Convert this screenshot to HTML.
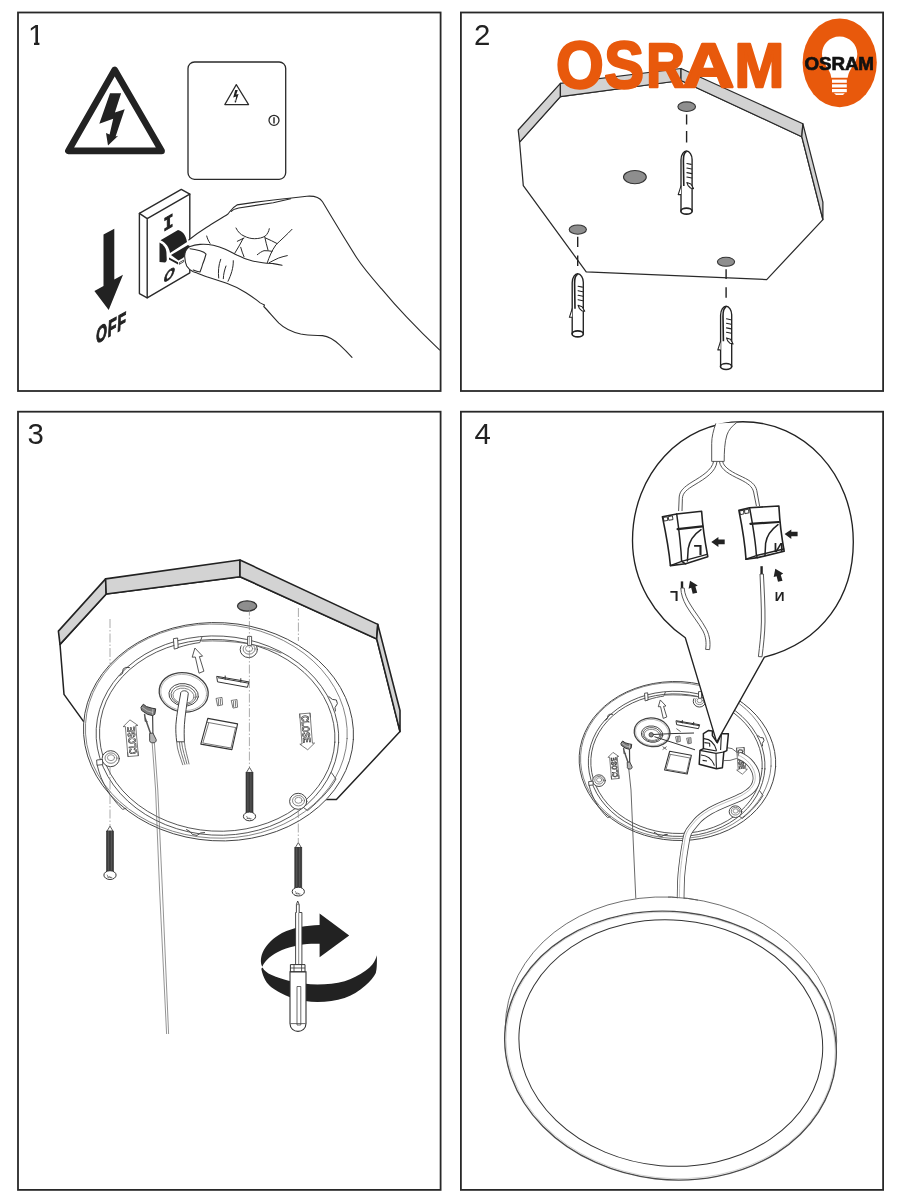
<!DOCTYPE html>
<html><head><meta charset="utf-8"><title>OSRAM mounting instructions</title>
<style>
html,body{margin:0;padding:0;background:#fff;}
body{width:900px;height:1200px;overflow:hidden;font-family:"Liberation Sans",sans-serif;}
svg{display:block;position:absolute;left:0;top:0;will-change:transform;}
.f{fill:none;stroke:#282828;stroke-width:1.8;}
.l{fill:none;stroke:#2a2a2a;stroke-width:1.1;stroke-linejoin:round;stroke-linecap:round;}
.t{fill:none;stroke:#444;stroke-width:0.7;stroke-linejoin:round;stroke-linecap:round;}
.w{fill:#fff;stroke:#2a2a2a;stroke-width:1.25;stroke-linejoin:round;}
.g{fill:#d2d2d2;stroke:#2a2a2a;stroke-width:1.25;stroke-linejoin:round;}
.h{fill:#8e8e8e;stroke:#333;stroke-width:1.1;}
.k{fill:#222;stroke:none;}
.num{font-family:"Liberation Sans",sans-serif;font-size:29.4px;fill:#222;}
</style></head><body>
<svg width="900" height="1200" viewBox="0 0 900 1200">
<defs>
<g id="anchor">
  <path d="M-5.5,60 L-5.5,9 C-5.5,3.5 -2.5,0 0,0 C3,0 5.6,4 5.6,8.5 L5.6,60 Z" fill="#fff" stroke="#222" stroke-width="1.35" stroke-linejoin="round"/>
  <ellipse cx="0" cy="60.2" rx="5.6" ry="3" fill="#fff" stroke="#222" stroke-width="1.7"/>
  <path d="M0,0.6 C-2.5,1.5 -3.2,5 -3.1,10 L-2.7,35" fill="none" stroke="#222" stroke-width="1.6"/>
  <path d="M-5.4,34.6 L-8.3,43.6 L-5.5,43.6" fill="#fff" stroke="#222" stroke-width="1.1" stroke-linejoin="round"/>
  <path d="M0.4,12.5 L4.7,13.4 M0.4,17 L5,18 M0.4,21.6 L5.2,22.6 M0.4,26 L5.2,27" fill="none" stroke="#222" stroke-width="1.1" stroke-linecap="round"/>
  <path d="M0.4,31.6 L4.4,33 L7,37.6 L4,37 L1.6,34.6 Z" fill="#fff" stroke="#222" stroke-width="1.1" stroke-linejoin="round"/>
</g>

<g id="post">
  <ellipse cx="0" cy="0" rx="8.6" ry="8" fill="#fff" stroke="#444" stroke-width="1" vector-effect="non-scaling-stroke"/>
  <ellipse cx="0.3" cy="-0.6" rx="6" ry="5.2" fill="none" stroke="#666" stroke-width="0.8" vector-effect="non-scaling-stroke"/>
  <ellipse cx="0.3" cy="-1" rx="3.6" ry="3" fill="none" stroke="#777" stroke-width="0.8" vector-effect="non-scaling-stroke"/>
</g>
<g id="base" stroke-linecap="round" stroke-linejoin="round">
  <g transform="rotate(3.3 217.9 731.7)">
    <ellipse cx="218.5" cy="731.7" rx="135.1" ry="109.1" fill="#fff" stroke="#444" stroke-width="1" vector-effect="non-scaling-stroke"/>
    <ellipse cx="216.3" cy="731.2" rx="131" ry="107" fill="none" stroke="#666" stroke-width="0.8" vector-effect="non-scaling-stroke"/>
  </g>
  <g transform="rotate(3.3 217.5 736)">
    <ellipse cx="217.4" cy="735.6" rx="121.4" ry="99.6" fill="none" stroke="#444" stroke-width="0.9" vector-effect="non-scaling-stroke"/>
    <ellipse cx="217.2" cy="735.4" rx="117.8" ry="95.8" fill="none" stroke="#444" stroke-width="0.9" vector-effect="non-scaling-stroke"/>
  </g>
  <!-- posts -->
  <clipPath id="cp1"><rect x="236" y="645.6" width="26" height="16"/></clipPath>
  <g clip-path="url(#cp1)"><use href="#post" x="248.8" y="649.6"/></g>
  <use href="#post" x="110.7" y="758.7"/>
  <use href="#post" x="298.2" y="801.3"/>
  <!-- tabs -->
  <path d="M248,636.4 H251.6 V645.4 H248 Z" fill="#fff" stroke="#444" stroke-width="0.9" vector-effect="non-scaling-stroke"/>
  <path d="M97,760 L102.4,759.4 L102.8,764.6 L97.4,765.2 Z" fill="#fff" stroke="#444" stroke-width="0.9" vector-effect="non-scaling-stroke"/>
  <path d="M173.8,638.6 L177.6,638 L178.2,648 L174.6,649 Z" fill="#fff" stroke="#444" stroke-width="0.9" vector-effect="non-scaling-stroke"/>
  <!-- lip recess and step -->
  <path d="M178,647.6 C186,645 194,643.2 199.8,642.6 L201.8,637.4" fill="none" stroke="#444" stroke-width="0.9" vector-effect="non-scaling-stroke"/>
  <path d="M201.8,641.2 C216,640.4 232,641.2 247.6,643.6 M252,644.4 C262,646.4 272,649.4 281,653" fill="none" stroke="#555" stroke-width="0.8" vector-effect="non-scaling-stroke"/>
  <!-- notches -->
  <path d="M119.6,675.6 L122.6,673.4 L123,669.2 L125.6,667.4 L129.4,667.6" fill="none" stroke="#444" stroke-width="1" vector-effect="non-scaling-stroke"/>
  <path d="M328.8,696.6 L332.4,699.4 L336.4,700 L337.4,703.6 L335,707.6 L335.4,711" fill="none" stroke="#444" stroke-width="1" vector-effect="non-scaling-stroke"/>
  <path d="M186.6,829.6 L190,831.6 L192.6,834.6 L197,835.4 L200.6,833 L204.6,832.6" fill="none" stroke="#444" stroke-width="1" vector-effect="non-scaling-stroke"/>
  <!-- lower lip segments -->
  <path d="M97.2,765.2 C101,782 110,797 122.6,809.4 L126,808.2" fill="none" stroke="#444" stroke-width="0.9" vector-effect="non-scaling-stroke"/>
  <path d="M331.4,772.6 L336,779 C330,790 320,800 307.6,810.6 L303.6,807.6" fill="none" stroke="#444" stroke-width="0.9" vector-effect="non-scaling-stroke"/>
  <!-- grommet -->
  <g transform="rotate(8 183.7 692.3)">
    <ellipse cx="183.7" cy="692.3" rx="24.6" ry="19.6" fill="#fff" stroke="#444" stroke-width="1.3" vector-effect="non-scaling-stroke"/>
    <ellipse cx="183.7" cy="692.5" rx="23" ry="18" fill="none" stroke="#888" stroke-width="0.6" vector-effect="non-scaling-stroke"/>
    <ellipse cx="184" cy="694.8" rx="14.8" ry="11.2" fill="none" stroke="#444" stroke-width="1" vector-effect="non-scaling-stroke"/>
    <ellipse cx="184" cy="695.2" rx="12.6" ry="9.4" fill="none" stroke="#555" stroke-width="0.9" vector-effect="non-scaling-stroke"/>
    <ellipse cx="184" cy="695.8" rx="10.6" ry="7.6" fill="none" stroke="#666" stroke-width="0.8" vector-effect="non-scaling-stroke"/>
  </g>
  <!-- arrow -->
  <path d="M194.8,648.4 L192.2,657.2 L195.3,657 L199,673.2 L203.9,671.2 L199.4,656.6 L202.2,656.2 Z" fill="#fff" stroke="#444" stroke-width="0.9" vector-effect="non-scaling-stroke"/>
  <!-- terminal strip -->
  <path d="M217.1,676.4 L249,681.9 L247.4,687.3 L217.9,681.9 Z" fill="#fff" stroke="#333" stroke-width="1" vector-effect="non-scaling-stroke"/>
  <path d="M218.4,677.8 L247.6,683 M225.2,676 V679.4 M240.8,678.6 V682" fill="none" stroke="#333" stroke-width="1" vector-effect="non-scaling-stroke"/>
  <!-- clips -->
  <path d="M216.4,698.4 L222,697.4 L222.6,704.8 L218,705.8 Z M218.4,699.4 V704.6 M220.4,699 V704.4" fill="#fff" stroke="#555" stroke-width="0.8" vector-effect="non-scaling-stroke"/>
  <path d="M231.6,700.4 L237,699.6 L237.6,707.2 L233.4,708 Z M233.6,701.4 V706.6 M235.6,701 V706.4" fill="#fff" stroke="#555" stroke-width="0.8" vector-effect="non-scaling-stroke"/>
  <!-- box -->
  <path d="M207.8,718.4 L237.6,723.9 L231.9,749.6 L200.8,744.1 Z" fill="#fff" stroke="#333" stroke-width="1.1" vector-effect="non-scaling-stroke"/>
  <path d="M206.8,722.2 L236.8,727.8 M208.6,723.4 L202.8,743 L231,748 L235.4,728.4" fill="none" stroke="#555" stroke-width="0.8" vector-effect="non-scaling-stroke"/>
  <!-- hook -->
  <path d="M141.2,706.9 L143.3,704.2 L146.5,706.6 L152,708.2 L155.7,708.8 L154.8,714.3 L152.5,715.6 L147.4,714.3 L141.9,710.6 Z" fill="#7a7a7a" stroke="#333" stroke-width="1" vector-effect="non-scaling-stroke"/>
  <path d="M142.6,707.6 L147.6,711 L152.6,712.4 M152.8,709.4 L152.6,714.6" fill="none" stroke="#ddd" stroke-width="0.6" vector-effect="non-scaling-stroke"/>
  <path d="M144.6,714.4 L145.4,721 L147,721.6 M145,717.4 L150.4,733" fill="none" stroke="#555" stroke-width="1.5" vector-effect="non-scaling-stroke"/>
  <path d="M152.6,715.4 L152.9,733.4" fill="none" stroke="#444" stroke-width="1.2" vector-effect="non-scaling-stroke"/>
  <path d="M150,733.4 L152.9,733 L156.2,739.6 C156.6,742 154.6,743 152.9,742.8 C150.6,743 149,741.4 149.6,739.4 Z" fill="#b5b5b5" stroke="#444" stroke-width="1" vector-effect="non-scaling-stroke"/>
  <!-- CLOSE labels -->
  <g transform="translate(136.8,754.2) rotate(-95)">
    <path d="M2.4,1.4 H-1.6 V-9 H2.4 M-1.6,1.4 H28.6 V3.6 L34.8,-3.8 L28.6,-11.2 V-9 H-1.6" fill="none" stroke="#444" stroke-width="0.7" vector-effect="non-scaling-stroke"/>
    <text x="0.4" y="0" font-family="Liberation Sans, sans-serif" font-weight="bold" font-size="10.4" textLength="27.4" lengthAdjust="spacingAndGlyphs" fill="#ddd" stroke="#222" stroke-width="0.6" vector-effect="non-scaling-stroke">CLOSE</text>
  </g>
  <g transform="translate(301.2,715.4) rotate(85.5)">
    <path d="M2.4,1.4 H-1.6 V-9 H2.4 M-1.6,1.4 H28.6 V3.6 L34.8,-3.8 L28.6,-11.2 V-9 H-1.6" fill="none" stroke="#444" stroke-width="0.7" vector-effect="non-scaling-stroke"/>
    <text x="0.4" y="0" font-family="Liberation Sans, sans-serif" font-weight="bold" font-size="10.4" textLength="27.4" lengthAdjust="spacingAndGlyphs" fill="#ddd" stroke="#222" stroke-width="0.6" vector-effect="non-scaling-stroke">CLOSE</text>
  </g>
</g>
<g id="screw">
  <path d="M0,0 L-3,5 H3 Z" fill="#fff" stroke="#333" stroke-width="0.8"/>
  <rect x="-3.5" y="5" width="7" height="41" fill="#3c3c3c" stroke="#2a2a2a" stroke-width="0.6"/>
  <path d="M-1.6,5 V46 M1.4,5 V46" stroke="#666" stroke-width="0.7" fill="none"/>
  <ellipse cx="0" cy="49" rx="6.1" ry="4.4" fill="#fff" stroke="#333" stroke-width="1"/>
  <path d="M-3,48.6 L-1.4,51.6 M-2.8,51 L2.2,51.4 M-0.6,50 L1,52" stroke="#555" stroke-width="0.7" fill="none"/>
</g>
</defs>
<rect width="900" height="1200" fill="#fff"/>

<!-- ===== PANEL 2 ===== -->
<g id="p2">
  <!-- plate underside -->
  <path class="w" d="M560.4,96.7 L681,80.5 L801.8,136.7 L822.9,219.6 L766.7,279.6 L586.2,271.8 L523.3,185.6 L519.6,142.2 Z"/>
  <!-- grey sides -->
  <path class="g" d="M518.2,130 L560.4,83.3 L560.4,96.7 L519.6,142.2 Z"/>
  <path class="g" d="M560.4,83.3 L681,68.5 L681,80.5 L560.4,96.7 Z"/>
  <path class="g" d="M681,68.5 L802.9,123.8 L801.8,136.7 L681,80.5 Z"/>
  <path class="g" d="M802.9,123.8 L822.9,202.2 L822.9,219.6 L801.8,136.7 Z"/>
  <!-- holes -->
  <ellipse class="h" cx="686.7" cy="106.7" rx="8.8" ry="4.8"/>
  <ellipse class="h" cx="634.9" cy="177.1" rx="11.4" ry="6.6"/>
  <ellipse class="h" cx="577.8" cy="229.6" rx="8.6" ry="4.6"/>
  <ellipse class="h" cx="726" cy="261.8" rx="8.6" ry="4.5"/>
  <!-- dashed lines -->
  <path d="M686.6,114.4 V124.4 M686.6,131 V142.5 M577.7,236.7 V247 M577.7,255.4 V266 M726.1,269.2 V279.1 M726.1,287.2 V297.7" fill="none" stroke="#222" stroke-width="1.4"/>
  <use href="#anchor" x="686.5" y="151"/>
  <use href="#anchor" x="577.7" y="273.7"/>
  <use href="#anchor" x="726.1" y="306.3"/>
</g>

<!-- ===== LOGO ===== -->
<g id="logo">
  <text font-family="Liberation Sans, sans-serif" font-weight="bold" fill="#e8590c" stroke="#e8590c" stroke-width="2.4" stroke-linejoin="round"><tspan x="555.9" y="87.5" font-size="66.1" textLength="47.7" lengthAdjust="spacingAndGlyphs">O</tspan><tspan x="604.3" y="87.5" font-size="66.1" textLength="39.8" lengthAdjust="spacingAndGlyphs">S</tspan><tspan x="646.2" y="86.9" font-size="63.8" textLength="38.6" lengthAdjust="spacingAndGlyphs">R</tspan><tspan x="682.7" y="86.9" font-size="63.8" textLength="51.5" lengthAdjust="spacingAndGlyphs">A</tspan><tspan x="734.5" y="86.9" font-size="63.8" textLength="49.8" lengthAdjust="spacingAndGlyphs">M</tspan></text>
  <ellipse cx="839.7" cy="62.8" rx="37.1" ry="44.4" fill="#e8590c"/>
  <path fill="#fff" d="M839.6,36.4 C829.6,36.4 822,44.5 822,54 C822,62 828,67 830.5,74 L831.3,77.8 H847.6 L848.5,74 C851,67 857.3,62 857.3,54 C857.3,44.5 849.6,36.4 839.6,36.4 Z"/>
  <rect x="832" y="79.6" width="14.8" height="3.2" fill="#fff"/>
  <rect x="832" y="84.3" width="14.8" height="3.2" fill="#fff"/>
  <rect x="832" y="89" width="14.8" height="3.2" fill="#fff"/>
  <path fill="#fff" d="M834,93.2 H844.8 L843,95 H836 Z"/>
  <text x="804.5" y="70" font-family="Liberation Sans, sans-serif" font-weight="bold" font-size="18.8" fill="#111" stroke="#111" stroke-width="0.7" letter-spacing="-0.1">OSRAM</text>
</g>

<!-- ===== PANEL 1 ===== -->
<g id="p1">
  <!-- warning triangle -->
  <path d="M114.7,69.9 L68.4,150.9 L161.6,150.9 Z" fill="#fff" stroke="#222" stroke-width="6.6" stroke-linejoin="round"/>
  <path class="k" d="M110,93.3 L121.1,93.3 L114.9,112.6 L124.7,109.3 L115.6,136.6 L118.2,135.8 L108,145.4 L106,133 L109.6,134.4 L113.2,118.7 L99.3,123.8 Z"/>
  <!-- cabinet -->
  <rect x="188" y="62" width="97.7" height="117.3" rx="6.5" ry="6.5" fill="#fff" stroke="#2a2a2a" stroke-width="1.3"/>
  <path d="M236.3,84.6 L224.8,104.6 L248.6,104.6 Z" fill="none" stroke="#2a2a2a" stroke-width="1.2" stroke-linejoin="round"/>
  <path class="k" d="M235.2,90 L237.8,90 L236.2,94.6 L238.6,94 L236,101.4 L236.7,101.2 L235,103 L234.6,100.6 L235.3,100.9 L236.2,96.4 L233.2,97.4 Z"/>
  <circle cx="274" cy="120.3" r="5" fill="#fff" stroke="#2a2a2a" stroke-width="1.3"/>
  <path d="M274,117.2 V123.4" stroke="#222" stroke-width="1.4" fill="none"/>
  <!-- down arrow -->
  <path class="k" d="M103.5,234.4 L114.3,228.7 L114.3,279.4 L123,274.7 L108.7,309.9 L94.4,291 L103.5,286.1 Z"/>
  <text transform="matrix(0.6,-0.336,-0.05,1,95.7,344.2)" font-family="Liberation Sans, sans-serif" font-weight="bold" font-size="23.3" letter-spacing="1.5" fill="#222" stroke="#222" stroke-width="1.1">OFF</text>
  <!-- switch plate -->
  <path class="w" style="stroke-width:1.4" d="M139.4,213.3 L181.3,189.4 L189.8,194.2 L189.8,272.8 L147.2,297.8 L139.4,293.6 Z"/>
  <path class="l" style="stroke-width:1.4" d="M139.4,213.3 L147.2,218.7 L189.8,194.2 M147.2,218.7 V297.8"/>
  <text transform="matrix(0.866,-0.5,0,1,163.4,231.4)" font-family="Liberation Mono, monospace" font-weight="bold" font-size="19" fill="#222" stroke="#222" stroke-width="1">I</text>
  <text transform="matrix(0.78,-0.45,-0.3,1,162.4,283.4)" font-family="Liberation Sans, sans-serif" font-weight="bold" font-size="17" fill="#222" stroke="#222" stroke-width="0.8">O</text>
  <!-- toggle -->
  <path class="k" d="M160.5,240.3 L178,230 C182,230.6 186,235 187,242 L170,253 C169.4,248 166,242.6 160.5,240.3 Z"/>
  <path class="k" d="M159.5,242.5 C163.6,244.6 166,248 166.4,252 L166.75,260 C166.4,261.6 165.6,262.4 165,262.5 L159.5,262 Z"/>
  <path class="k" d="M171,255 L188,245 L191,247 L186,254.6 L183,258 L178.5,260.5 Z"/>
  <path class="k" d="M169,257.6 L178,262.2 L178,264.4 L169,259.6 Z"/>
  <path d="M179.3,262.6 L183.6,260.2 L183.6,261.8 L179.3,264.3 Z" fill="#fff" stroke="#222" stroke-width="0.8" stroke-linejoin="round"/>
  <!-- hand -->
  <path fill="#fff" d="M188.7,240 C195,235 200,231.5 206.7,227.3 C214,222.5 222,218 228,214 C230.5,211 232,207.5 237,204.9 L290,199 L290,300 L260.2,302.9 C256,299.5 251,296 246,292.8 C240,289 233,285.5 226.7,283.3 C220,281 214,279 206.7,276.7 C202,275 197,273 193.3,271.8 C190.5,270.5 188.5,269 186.7,266 C185.5,263.5 185,261 184.7,256.7 C184.5,253 186,249 189.3,246.7 Z"/>
  <path class="l" d="M188.7,240 C195,235 200,231.5 206.7,227.3 C214,222.5 222,218 228,214 C230.5,211 232,207.5 237,204.9 C255,202 290,198 306.9,196.2 C316,195.5 320,198 322.5,201.8 C325,206 328,211 331.8,217.3 C340,231 348,244 356.7,257.8 C364,269 372,278 381.6,288.9 C390,299 398,308 406.5,316.9 C416,327 428,339 439.5,349.8"/>
  <path class="l" d="M231.3,211.3 C233,209.5 236,208.6 238.7,208 L273.3,202.7 L290.7,198.7"/>
  <path class="l" d="M189.3,246.7 C193,245.5 196,244.8 200,244.4 C205,244 209,244.4 213.3,245.3 C218,246.5 221,247.5 225.3,249.3 C230,251.5 233,253.2 237.3,255.3 C241,257 245,258.8 249.3,260 C254,261.5 258,262.2 262.7,262.7 C266,263.2 270,263.4 273.3,263.6 C276,263.9 279,264.5 282,265.3"/>
  <path class="l" d="M189.3,246.7 C186,249 184.5,253 184.7,256.7 C185,261 185.5,263.5 186.7,266 C188.5,269 190.5,270.5 193.3,271.8 C197,273 202,275 206.7,276.7 C214,279 220,281 226.7,283.3 C233,285.5 240,289 246,292.8 C251,296 256,299.5 260.2,302.9 C262,304 263.5,304.6 264.5,305 L263.8,306.5 C269,312 274,318 278.9,323.1 C284,328 292,332 300.7,334 C308,335.5 316,335.3 322.5,335.6 C329,336.5 335,340.5 339.6,344.9 C344,349 348,353 352,357.3"/>
  <path class="l" d="M190,248.7 C194,249 197,249.8 200,250.7 C203,251.6 205,252.6 206,254 C205,258 204,261 202.7,264 C202,267 201,269.5 200,272 C197.5,271.7 195.5,271 193.3,270" stroke-width="0.9"/>
  <path class="l" style="stroke-width:1" d="M220.7,259.3 C218.5,265 218,272 218.7,278 M226,266 C224.5,270 223.5,274 223.3,278.7 M233.3,260.7 C233.5,268 231,275 228,281.3"/>
  <path class="l" style="stroke-width:1" d="M206.7,236 C207.5,239 208.5,241 210,243.3"/>
  <path class="l" style="stroke-width:1" d="M236,228 C238,232 240.5,234.5 244,236 C247.5,237.8 251,238.7 254.7,238.7 C259,238.6 262.5,237.8 265.3,236 C267.5,234 268.8,231.5 269.3,228.7"/>
  <path class="l" style="stroke-width:1" d="M237.3,241.3 L244,238 M243.2,238.4 C240.5,243.5 237.8,248.5 234.7,253.3 M240.7,247.3 C241.5,250.5 242.8,253.8 244,256.7"/>
  <path class="l" style="stroke-width:1" d="M264.7,236.7 C265.5,241 266.8,245.5 268,250 M265.5,238 C269.5,239.8 273.5,241.5 277,243.5"/>
  <path class="l" style="stroke-width:1" d="M292,229.3 C287,234.5 281,240 276,244.7 C274,247.5 272,251 270.7,254 C269.3,257 268.2,260 267.3,262.7"/>
  <path class="l" style="stroke-width:1" d="M257.3,254.7 C259.5,253 261.5,251.5 264,250.7 C266.5,250.6 269.5,250.8 272,251.3"/>
  <path class="l" style="stroke-width:1" d="M269.3,262.7 C272.5,261 275.5,259.3 278.7,258 C281.5,257 284.5,256.2 287.3,255.6"/>
</g>

<!-- ===== PANEL 3 ===== -->
<g id="p3">
  <!-- ceiling plate -->
  <path d="M60,644.4 L106.2,594 L240,576.7 L376.7,638.9 L400,731.6 L336.4,799.6 L300,799.6 L83.3,721.1 L64,694.4 Z" fill="#fff" stroke="#222" stroke-width="1.5" stroke-linejoin="round"/>
  <path d="M58.4,631.1 L105.6,578.9 L106.2,594 L60,644.4 Z" fill="#d3d3d3" stroke="#222" stroke-width="1.6" stroke-linejoin="round"/>
  <path d="M105.6,578.9 L240,560 L240,576.7 L106.2,594 Z" fill="#d3d3d3" stroke="#222" stroke-width="1.6" stroke-linejoin="round"/>
  <path d="M240,560 L377.8,624.4 L376.7,638.9 L240,576.7 Z" fill="#d3d3d3" stroke="#222" stroke-width="1.6" stroke-linejoin="round"/>
  <path d="M377.8,624.4 L400,710.5 L400,731.6 L376.7,638.9 Z" fill="#d3d3d3" stroke="#222" stroke-width="1.6" stroke-linejoin="round"/>
  <ellipse cx="247.1" cy="606" rx="9.6" ry="5.2" fill="#8e8e8e" stroke="#333" stroke-width="1.3"/>
  <!-- thin guide lines behind -->
  <path d="M110,619 V664 M298.4,608 V641" fill="none" stroke="#888" stroke-width="0.7" stroke-dasharray="9 2 1.5 2"/>
  <use href="#base"/>
  <!-- cable from grommet -->
  <path d="M180.6,694 C180,690 187.6,689.6 188.3,693.4 C187,704 185,715 184.4,724.7 C184,731 184.2,737 184.4,741.8 L176.7,741.8 C176,736 175.6,731 175.9,724.7 C176.6,714 179,703 180.6,694 Z" fill="#fff" stroke="#444" stroke-width="1"/>
  <path d="M176.7,741.8 C177,750 180.6,758 182.9,765.1 M179.4,741.8 C179.8,750 183,758 185,764.8 M181.6,741.8 C182.4,750 185.4,757.6 187,764.4 M184.4,741.8 C185,749.6 187.6,757 189.1,764.3" fill="none" stroke="#555" stroke-width="0.8"/>
  <!-- guide lines front -->
  <path d="M249.4,606.6 V767" fill="none" stroke="#888" stroke-width="0.7" stroke-dasharray="9 2 1.5 2"/>
  <path d="M110,766 V826 M298.3,809 V842" fill="none" stroke="#888" stroke-width="0.7" stroke-dasharray="9 2 1.5 2"/>
  <!-- pull wire -->
  <path d="M152.2,743 L155.6,790 L159.6,890 L166.6,1034 M154.4,743 L157.8,790 L162.4,890 L168.6,1034" fill="none" stroke="#666" stroke-width="0.7"/>
  <!-- screws -->
  <use href="#screw" x="249.5" y="767.4"/>
  <g transform="translate(249.5,767.4)"></g>
  <use href="#screw" x="110" y="826.1"/>
  <use href="#screw" x="298.3" y="842.6"/>
  <!-- rotation arrow back -->
  <path class="k" d="M262.3,966.7 C258,958 264,943 282,933 C294,927.4 306,925.4 319.6,925 L319.6,913.5 L349.2,935.4 L319.6,957.3 L319.6,943.8 C308,943.2 294,945 282,950 C272,954.4 265,960 262.3,966.7 Z"/>
  <!-- screwdriver shaft -->
  <path d="M297.7,901 L296.4,904.6 V912.5 H295.6 V964.6 H301.9 V912.5 H299.2 V904.6 Z" fill="#fff" stroke="#333" stroke-width="0.9" stroke-linejoin="round"/>
  <path d="M296.4,904.6 H299.2 M298.7,912.5 V964.6" fill="none" stroke="#555" stroke-width="0.7"/>
  <!-- rotation arrow front -->
  <path class="k" d="M261.3,968.8 C263,978 267,984 271.7,987.5 C280,993 286,996 292.5,997.9 C301,1000.6 309,1002 317.5,1002 C327,1002 336,1000.6 344.6,997.9 C352,995.4 359,991 365.4,985.4 C370,981.4 374,977 375.8,972.9 C377,969 377,962 376.9,955.2 C375,962 371,967 365.4,970.8 C359,975.4 352,979 344.6,981.3 C336,983.6 327,984.4 317.5,984.4 C308,984.4 299,983.4 290.4,981.3 C283,979.4 277,977.4 271.7,975 C267,972.8 264,970.4 262.6,967.4 Z"/>
  <!-- handle -->
  <path d="M290.4,964.6 H305 V971.9 H290.4 Z" fill="#fff" stroke="#333" stroke-width="1"/>
  <path d="M290.4,968 H305 M294,964.6 V971.9 M301.6,964.6 V971.9" fill="none" stroke="#333" stroke-width="0.8"/>
  <path d="M290,971.9 H306 V1023.6 C306,1028.6 302,1031.4 298,1031.4 C294,1031.4 290,1028.6 290,1023.6 Z" fill="#fff" stroke="#333" stroke-width="1.1"/>
  <path d="M297,986.5 H300.8 V1025 H297 Z M290.4,1023.6 H305.6" fill="none" stroke="#444" stroke-width="0.8"/>
</g>

<!-- ===== PANEL 4 ===== -->
<g id="p4">
  <!-- big ring -->
  <clipPath id="clipA"><rect x="470" y="880" width="420" height="172"/></clipPath><clipPath id="clipA2"><rect x="668" y="890" width="30" height="14"/></clipPath>
  <g clip-path="url(#clipA)"><g transform="rotate(7 671 1034.1)"><ellipse cx="671" cy="1034.1" rx="166.1" ry="136.7" fill="#fff" stroke="#555" stroke-width="0.8"/></g></g>
  <g transform="rotate(6.5 670.5 1045.6)"><ellipse cx="670.5" cy="1045.6" rx="166.2" ry="134" fill="#fff" stroke="#4a4a4a" stroke-width="1.4"/></g>
  <g transform="rotate(6.5 670.5 1045.6)"><ellipse cx="670.6" cy="1045.4" rx="165" ry="132.8" fill="none" stroke="#bbb" stroke-width="0.6"/></g>
  <g transform="rotate(5 670.8 1043.1)"><ellipse cx="670.8" cy="1043.1" rx="152.1" ry="123" fill="#fff" stroke="#333" stroke-width="1"/></g>
  <!-- base (scaled) -->
  <g transform="translate(677,761) scale(0.728) translate(-217.9,-731.7)"><use href="#base"/></g>
  <!-- pull wire -->
  <path d="M628.7,768 L631,790 L633.6,850 L635.8,898.4" fill="none" stroke="#444" stroke-width="0.8"/>
  <!-- wires from grommet to connector -->
  <path d="M651,734.6 L672,733.6 L694,733 M654.4,736.7 L676,743.6 L695,749.8" fill="none" stroke="#333" stroke-width="1"/>
  <path d="M662.6,746.6 L666.6,749.6 M662.6,749.6 L666.6,746.6 M676.4,728.6 L680.6,731.6" fill="none" stroke="#444" stroke-width="0.8"/>
  <circle cx="651.2" cy="734.8" r="2.2" fill="#888" stroke="#333" stroke-width="0.8"/>
  <!-- cable to ring -->
  <path d="M738.6,755.4 C748,759 756.5,768 756.5,778 C756.5,787 750,792 742,796.5 C732,801.5 720,805 710.4,810.8 C704,814.6 699,818.6 696.2,822 C692,827 689.4,830 688.2,832.7 C686.6,836 686,840 685.6,843.3 C684.6,849 683.6,855 682.9,861.1 C682,868 681.4,873 681.1,878.9 C680.8,886 680.7,892 680.6,898.4" fill="none" stroke="#444" stroke-width="7.6"/>
  <path d="M738.6,755.4 C748,759 756.5,768 756.5,778 C756.5,787 750,792 742,796.5 C732,801.5 720,805 710.4,810.8 C704,814.6 699,818.6 696.2,822 C692,827 689.4,830 688.2,832.7 C686.6,836 686,840 685.6,843.3 C684.6,849 683.6,855 682.9,861.1 C682,868 681.4,873 681.1,878.9 C680.8,886 680.7,892 680.6,898.4 V899" fill="none" stroke="#fff" stroke-width="6"/>
  <path d="M738.6,755.4 C748,759 756.5,768 756.5,778 C756.5,787 750,792 742,796.5 C732,801.5 720,805 710.4,810.8 C704,814.6 699,818.6 696.2,822 C692,827 689.4,830 688.2,832.7 C686.6,836 686,840 685.6,843.3 C684.6,849 683.6,855 682.9,861.1 C682,868 681.4,873 681.1,878.9 C680.8,886 680.7,892 680.6,898.4" fill="none" stroke="#999" stroke-width="0.6" transform="translate(-1.2,-0.6)"/>
  <g clip-path="url(#clipA2)"><g transform="rotate(7 671 1034.1)"><ellipse cx="671" cy="1034.1" rx="166.1" ry="136.7" fill="none" stroke="#555" stroke-width="0.8"/></g></g>
  <!-- wires block to cable -->
  <path d="M726.7,747.6 L732,748.6 L738.2,753.3 M723.8,760.6 L730,760.4 L736.8,758.4" fill="none" stroke="#444" stroke-width="0.8"/>
  <!-- connector block -->
  <path d="M703.4,733.6 L708.6,730.4 L712.4,731 L712.4,735.6 L717.4,742.8 L721.4,733.8 L728.4,733.8 L726.8,750.6 L723.8,752 L722.4,767.8 L716.4,768.8 L699.2,764.2 L700,750.4 L703.4,748.6 Z" fill="#fff" stroke="#222" stroke-width="1.5" stroke-linejoin="round"/>
  <path d="M700,750.4 L716,753.4 L723.8,752 M703.4,748.6 L716.6,751 M716,753.4 L716.4,768.8 M704,738.6 C710,739 714.6,742.6 716.6,750.6 M704.4,742.6 L709.6,743.2 L709.8,746.6 M721.4,733.8 L720.6,750 M701,755 C707,755.6 712,758.6 714.4,765.6 M702.6,760.4 L707,761" fill="none" stroke="#222" stroke-width="1.1" stroke-linejoin="round"/>
  <!-- bubble -->
  <path d="M685.3,637.8 C655,617 632.5,582 632.5,540.6 C632.5,474 681,421.7 742.9,421.7 C804,421.7 853.3,474 853.3,542 C853.3,596 823,642 764.4,657.2 L716.7,742.1 Z" fill="#fff" stroke="#222" stroke-width="1.35" stroke-linejoin="round"/>
  <!-- bubble contents -->
  <g id="bubble-in">
    <!-- cable from top -->
    <path d="M715.8,423.4 C713.6,430 711.6,437 711.7,443.3 L711.7,461.4 L724.2,461.4 C724.2,452 724.6,442 726.9,435 C728.6,430 732,426 736.7,422.6" fill="#fff" stroke="#444" stroke-width="0.9"/>
    <!-- left wire -->
    <path d="M713.6,461.4 C712,470 702,476 692,482 C684,487 679.6,491 679.2,497 L678.6,511 M717,461.4 C716,472 705,478.6 695,484.6 C686.6,489.6 682.6,493 682.4,498.6 L682,511" fill="none" stroke="#444" stroke-width="0.9"/>
    <!-- right wire -->
    <path d="M719.4,461.4 C720.6,470 730,474.6 740,479.4 C748,483.4 752.4,486.6 753.6,492 L756.4,506 M722.6,461.4 C724,468 733,472.6 742.6,477 C751,481 755.6,484.6 756.8,490.6 L759.6,506" fill="none" stroke="#444" stroke-width="0.9"/>
    <!-- connector L -->
    <g stroke="#222" stroke-linejoin="round" stroke-linecap="round">
      <path d="M662.4,516.7 L676.7,514 L701.6,511.3 C702.6,526 705,542 707.8,556.7 L685.6,563.8 L670.4,565.6 C669,550 665.6,532 662.4,516.7 Z" fill="#fff" stroke-width="1.6"/>
      <path d="M676.7,514 C679,530 681,546 681.6,561.4 L685.6,563.8 M670.4,565.6 L681.6,561.4 L707,554.4" fill="none" stroke-width="1.5"/>
      <path d="M677.6,529.1 L702.4,526.4" fill="none" stroke-width="2.2"/>
      <path d="M701,529.6 C693.6,534.6 689.4,541 688.2,548.7 L687.4,561" fill="none" stroke-width="1.5"/>
      <path d="M663.6,517.4 L667.2,516.8 L667.8,520.4 L664.4,521 Z M668.6,516.6 L672.4,515.8 L673,519.6 L669.2,520.2 Z" fill="none" stroke-width="0.9"/>
    </g>
    <!-- connector N -->
    <g stroke="#222" stroke-linejoin="round" stroke-linecap="round">
      <path d="M738.9,510.4 L749.6,507.8 L778.9,506 C779.6,521 781.6,537 784.2,551.3 L757.6,557.6 L746,559.3 C745,543 742,526 738.9,510.4 Z" fill="#fff" stroke-width="1.6"/>
      <path d="M749.6,507.8 C752.6,524 755.6,541 756.4,555.6 L757.6,557.6 M746,559.3 L756.4,555.6 L783.6,549" fill="none" stroke-width="1.5"/>
      <path d="M750.4,523.8 L778.9,522" fill="none" stroke-width="2.2"/>
      <path d="M778,524.6 C770.6,530 766.6,536 765.6,543.4 L765,555.6" fill="none" stroke-width="1.5"/>
      <path d="M740,511 L743.4,510.2 L744,513.8 L740.8,514.6 Z M744.8,510 L748.4,509.2 L749,512.8 L745.4,513.6 Z" fill="none" stroke-width="0.9"/>
    </g>
    <!-- L / N labels (shown upside-down / mirrored as in the original) -->
    <g font-family="Liberation Sans, sans-serif" font-weight="bold" fill="#222">
      <text transform="translate(702.6,544.6) rotate(180)" font-size="14.5">L</text>
      <text transform="translate(678.6,590.8) rotate(180)" font-size="14">L</text>
      <text transform="translate(783.4,551.6) scale(-1,1)" font-size="13.6">N</text>
      <text transform="translate(784.6,601.4) scale(-1,1)" font-size="13.6">N</text>
    </g>
    <!-- arrows -->
    <path class="k" d="M711.3,541.9 L718.4,537.1 L718.4,539.6 L724.7,539.6 L724.7,544.2 L718.4,544.2 L718.4,546.9 Z"/>
    <path class="k" d="M784.6,534.1 L791.3,529.5 L791.3,531.8 L797.6,531.8 L797.6,536.2 L791.3,536.2 L791.3,538.9 Z"/>
    <path class="k" d="M690,580.8 L697.8,585.6 L695.4,586.5 L697.2,592.8 L692.7,593.7 L691.2,587.8 L688.6,588.8 Z"/>
    <path class="k" d="M775.3,568.8 L783.2,573.6 L780.8,575 L782.5,580.7 L778,581.8 L776.6,576.2 L773.7,577 Z"/>
    <!-- stripped wires -->
    <path d="M682,581.4 V588" stroke="#222" stroke-width="2.4" fill="none"/>
    <path d="M680.8,588 C681,594 683,600 686.4,606 C691,614 698,622 703,631 C706,637 706.6,643 705.6,649.4 L709.6,649.6 C710.6,643 709.8,636 706.6,629.6 C701.6,620 694.6,612 690,604 C686.8,598.6 684.6,594 684.2,588 Z" fill="#fff" stroke="#444" stroke-width="0.9"/>
    <path d="M761.6,566.2 V574" stroke="#222" stroke-width="2.4" fill="none"/>
    <path d="M760,574 C760.6,590 761.6,606 761.4,622 C761.2,634 759.6,646 758.4,656.6 L762,656.8 C763.4,646 764.8,634 765,622 C765.2,606 764.2,590 763.4,574 Z" fill="#fff" stroke="#444" stroke-width="0.9"/>
  </g>
</g>

<!-- frames -->
<rect class="f" x="18" y="12.5" width="422.6" height="378.5"/>
<rect class="f" x="460.9" y="12.5" width="422.2" height="378.5"/>
<rect class="f" x="18" y="411.7" width="422.6" height="778.2"/>
<rect class="f" x="460.9" y="411.7" width="422.2" height="778.2"/>
<clipPath id="c1"><path d="M20,15 H50 V41.6 H39.4 V50 H34 V41.6 H20 Z"/></clipPath>
<text class="num" x="28" y="45" clip-path="url(#c1)">1</text>
<text class="num" x="474" y="45">2</text>
<text class="num" x="27.6" y="444.2">3</text>
<text class="num" x="474.6" y="444.2">4</text>
</svg>
</body></html>
